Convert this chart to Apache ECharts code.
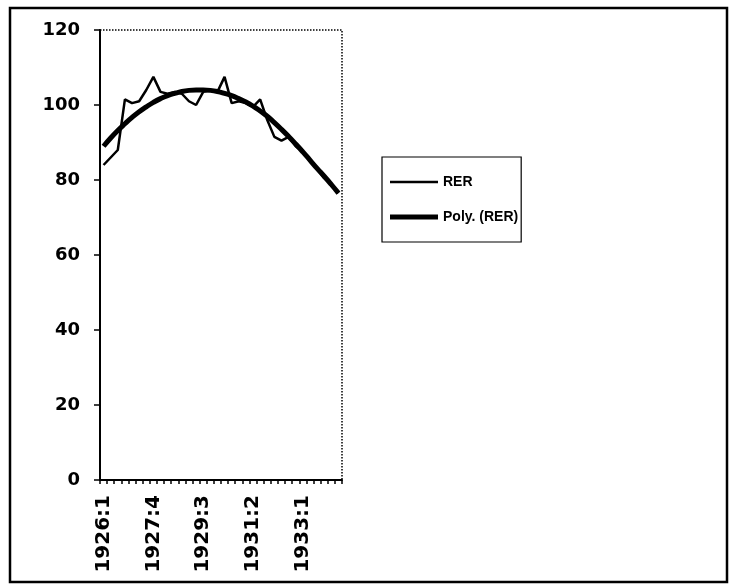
<!DOCTYPE html>
<html>
<head>
<meta charset="utf-8">
<script src="https://cdn.jsdelivr.net/npm/echarts@6/dist/echarts.min.js"></script>
<style>
  html, body { margin: 0; padding: 0; background: #fff; }
  #chart { width: 735px; height: 584px; }
</style>
</head>
<body>
<div id="chart"></div>
<script>
// Quarterly observations, 1926:1 – 1934:2
const quarters = [
  '1926:1','1926:2','1926:3','1926:4',
  '1927:1','1927:2','1927:3','1927:4',
  '1928:1','1928:2','1928:3','1928:4',
  '1929:1','1929:2','1929:3','1929:4',
  '1930:1','1930:2','1930:3','1930:4',
  '1931:1','1931:2','1931:3','1931:4',
  '1932:1','1932:2','1932:3','1932:4',
  '1933:1','1933:2','1933:3','1933:4',
  '1934:1','1934:2'
];

// Real exchange rate index
const rer = [
  84, 86, 88, 101.5, 100.5, 101, 104, 107.5,
  103.5, 103, 103.5, 103, 101, 100, 103.5, 104,
  103.5, 107.5, 100.5, 101, 100.5, 99.5, 101.5, 96,
  91.5, 90.5, 91.5, 89, 87.5, 85, 83, 80.5,
  79, 76.5
];

// Polynomial trend of the index
const polyRer = [
  89, 91.2, 93.2, 95, 96.7, 98.2, 99.5, 100.7,
  101.7, 102.5, 103.1, 103.6, 103.9, 104, 104, 103.9,
  103.6, 103.1, 102.5, 101.7, 100.8, 99.7, 98.4, 97,
  95.3, 93.5, 91.6, 89.6, 87.5, 85.3, 83.1, 81,
  78.8, 76.5
];

const yTicks = { min: 0, max: 120, step: 20 };

const chart = echarts.init(document.getElementById('chart'), null, { renderer: 'canvas' });

chart.setOption({
  animation: false,
  backgroundColor: '#ffffff',
  graphic: [{
    type: 'rect',
    shape: { x: 10, y: 8, width: 717, height: 574 },
    style: { fill: 'none', stroke: '#000', lineWidth: 2.5 },
    silent: true
  }],
  grid: {
    left: 100, top: 30, width: 242, height: 450,
    show: true,
    borderColor: '#000',
    borderWidth: 1.5,
    borderType: [1.5, 1.5],
    backgroundColor: 'transparent'
  },
  legend: {
    orient: 'vertical',
    left: 382, top: 157,
    borderColor: '#000', borderWidth: 1.2,
    padding: [18, 3, 18, 8],
    itemGap: 21,
    itemWidth: 48, itemHeight: 14,
    textStyle: { fontFamily: 'Liberation Sans', fontWeight: 'bold', fontSize: 14, color: '#000' },
    data: [
      { name: 'RER', icon: 'path://M0,0H48V2.5H0Z' },
      { name: 'Poly. (RER)', icon: 'path://M0,0H48V5H0Z' }
    ]
  },
  xAxis: {
    type: 'category',
    data: quarters,
    boundaryGap: true,
    axisLine: { lineStyle: { color: '#000', width: 2 } },
    axisTick: { show: true, interval: 0, length: 4, lineStyle: { color: '#000', width: 1.5 } },
    axisLabel: {
      interval: 6, rotate: 90, margin: 15,
      fontFamily: 'DejaVu Sans', fontWeight: 'bold', fontSize: 20, color: '#000'
    },
    splitLine: { show: false }
  },
  yAxis: {
    type: 'value',
    min: yTicks.min, max: yTicks.max, interval: yTicks.step,
    axisLine: { show: true, lineStyle: { color: '#000', width: 2 } },
    axisTick: { show: true, length: 6, lineStyle: { color: '#000', width: 1.5 } },
    axisLabel: {
      margin: 20,
      fontFamily: 'DejaVu Sans', fontWeight: 'bold', fontSize: 18, color: '#000'
    },
    splitLine: { show: false }
  },
  series: [
    {
      name: 'RER', type: 'line', data: rer,
      symbol: 'none', smooth: false,
      lineStyle: { color: '#000', width: 2.5 },
      itemStyle: { color: '#000' },
      z: 3
    },
    {
      name: 'Poly. (RER)', type: 'line', data: polyRer,
      symbol: 'none', smooth: true,
      lineStyle: { color: '#000', width: 5 },
      itemStyle: { color: '#000' },
      z: 2
    }
  ]
});
</script>
</body>
</html>
